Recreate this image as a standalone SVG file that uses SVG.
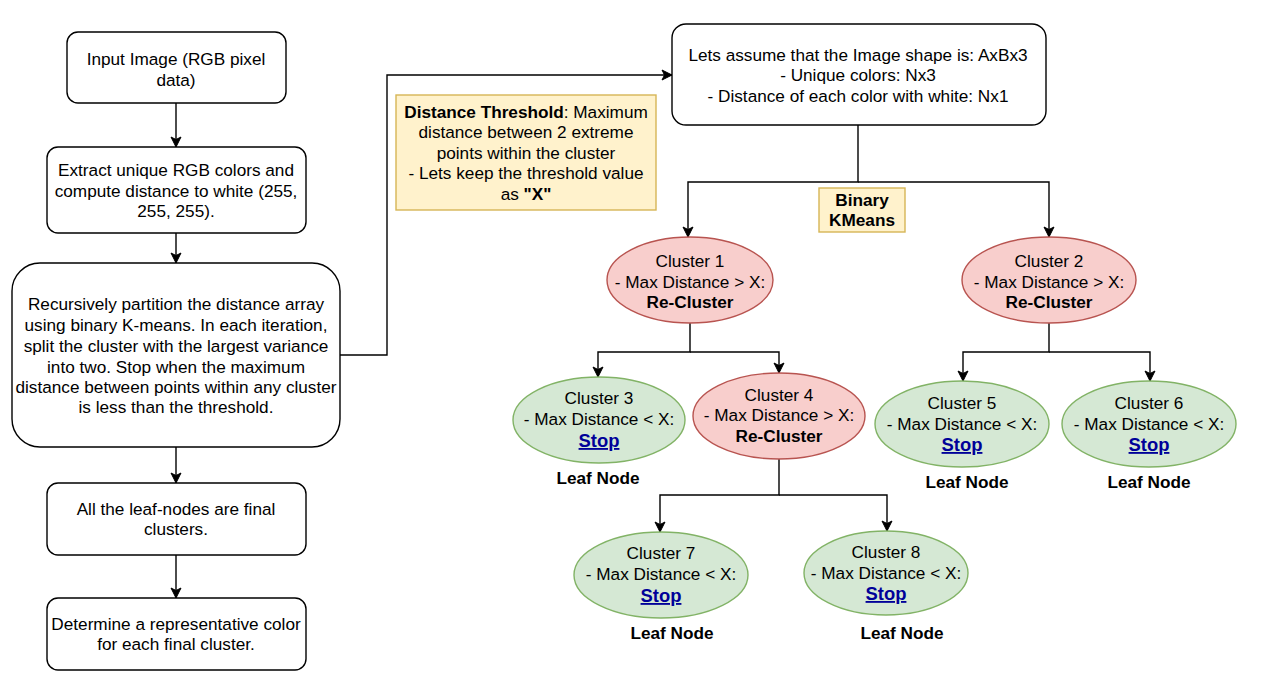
<svg xmlns="http://www.w3.org/2000/svg" width="1261" height="695" viewBox="0 0 1261 695">
<defs>
<marker id="arr" markerUnits="userSpaceOnUse" markerWidth="14" markerHeight="12" viewBox="-1 -6 13 12" refX="10" refY="0" orient="auto">
<path d="M0,-5 L10,0 L0,5 L2.5,0 Z" fill="#000" stroke="#000" stroke-width="1"/>
</marker>
</defs>
<style>
text{font-family:"Liberation Sans",Arial,sans-serif;font-size:17.2px;fill:#000;text-anchor:middle}
.b{font-weight:bold}
.box{fill:#fff;stroke:#000;stroke-width:1.4}
.yel{fill:#fff2cc;stroke:#d6b656;stroke-width:1.4}
.red{fill:#f8cecc;stroke:#b85450;stroke-width:1.4}
.grn{fill:#d5e8d4;stroke:#82b366;stroke-width:1.4}
.stop{font-weight:bold;font-size:18.4px;fill:#000099;text-decoration:underline}
.con path{fill:none;stroke:#000;stroke-width:1.4;marker-end:url(#arr)}
</style>
<rect width="1261" height="695" fill="#fff"/>
<g class="con">
<path d="M176,103 V147"/>
<path d="M176,233 V263"/>
<path d="M176,447 V483"/>
<path d="M176,555 V598"/>
<path d="M340,355 H387 V75 H672"/>
<path d="M858,125 V182 H688 V237"/>
<path d="M858,182 H1049 V237"/>
<path d="M690,323 V352 H598 V377"/>
<path d="M690,352 H779 V373"/>
<path d="M1049,323 V352 H963 V381"/>
<path d="M1049,352 H1150 V381"/>
<path d="M779,459 V495 H660 V532"/>
<path d="M779,495 H887 V531"/>
</g>
<g id="input">
<rect class="box" x="67" y="32" width="219" height="71" rx="11"/>
<text x="176" y="65">Input Image (RGB pixel</text>
<text x="176" y="86">data)</text>
</g>
<g id="extract">
<rect class="box" x="47" y="147" width="259" height="86" rx="11"/>
<text x="176" y="176">Extract unique RGB colors and</text>
<text x="176" y="197">compute distance to white (255,</text>
<text x="176" y="217">255, 255).</text>
</g>
<g id="recursive">
<rect class="box" x="12" y="263" width="328" height="184" rx="28"/>
<text x="176" y="310">Recursively partition the distance array</text>
<text x="176" y="331">using binary K-means. In each iteration,</text>
<text x="176" y="352">split the cluster with the largest variance</text>
<text x="176" y="373">into two. Stop when the maximum</text>
<text x="176" y="393">distance between points within any cluster</text>
<text x="176" y="413">is less than the threshold.</text>
</g>
<g id="leafs">
<rect class="box" x="47" y="483" width="259" height="72" rx="11"/>
<text x="176" y="515">All the leaf-nodes are final</text>
<text x="176" y="535">clusters.</text>
</g>
<g id="represent">
<rect class="box" x="47" y="598" width="259" height="72" rx="11"/>
<text x="176" y="630">Determine a representative color</text>
<text x="176" y="650">for each final cluster.</text>
</g>
<g id="assume">
<rect class="box" x="672" y="24" width="374" height="101" rx="14"/>
<text x="858" y="61">Lets assume that the Image shape is: AxBx3</text>
<text x="858" y="81">- Unique colors: Nx3</text>
<text x="858" y="102">- Distance of each color with white: Nx1</text>
</g>
<g id="threshold">
<rect class="yel" x="396" y="95" width="260" height="115"/>
<text x="526" y="118"><tspan class="b">Distance Threshold</tspan>: Maximum</text>
<text x="526" y="138">distance between 2 extreme</text>
<text x="526" y="159">points within the cluster</text>
<text x="526" y="179">- Lets keep the threshold value</text>
<text x="526" y="200">as <tspan class="b">"X"</tspan></text>
</g>
<g id="kmeans">
<rect class="yel" x="819" y="188" width="86" height="44"/>
<text class="b" x="862" y="206">Binary</text>
<text class="b" x="862" y="226">KMeans</text>
</g>
<g id="c1">
<ellipse class="red" cx="690" cy="280" rx="83" ry="43"/>
<text x="690" y="267">Cluster 1</text>
<text x="690" y="288">- Max Distance &gt; X:</text>
<text class="b" x="690" y="308">Re-Cluster</text>
</g>
<g id="c2">
<ellipse class="red" cx="1049" cy="280" rx="87" ry="43"/>
<text x="1049" y="267">Cluster 2</text>
<text x="1049" y="288">- Max Distance &gt; X:</text>
<text class="b" x="1049" y="308">Re-Cluster</text>
</g>
<g id="c3">
<ellipse class="grn" cx="599" cy="420" rx="86" ry="43"/>
<text x="599" y="404">Cluster 3</text>
<text x="599" y="425">- Max Distance &lt; X:</text>
<text class="stop" x="599" y="447">Stop</text>
<text class="b" x="598" y="484">Leaf Node</text>
</g>
<g id="c4">
<ellipse class="red" cx="779" cy="416" rx="86" ry="43"/>
<text x="779" y="401">Cluster 4</text>
<text x="779" y="421">- Max Distance &gt; X:</text>
<text class="b" x="779" y="442">Re-Cluster</text>
</g>
<g id="c5">
<ellipse class="grn" cx="962" cy="424" rx="87" ry="43"/>
<text x="962" y="409">Cluster 5</text>
<text x="962" y="430">- Max Distance &lt; X:</text>
<text class="stop" x="962" y="451">Stop</text>
<text class="b" x="967" y="488">Leaf Node</text>
</g>
<g id="c6">
<ellipse class="grn" cx="1149" cy="424" rx="87" ry="43"/>
<text x="1149" y="409">Cluster 6</text>
<text x="1149" y="430">- Max Distance &lt; X:</text>
<text class="stop" x="1149" y="451">Stop</text>
<text class="b" x="1149" y="488">Leaf Node</text>
</g>
<g id="c7">
<ellipse class="grn" cx="661" cy="575" rx="87" ry="43"/>
<text x="661" y="559">Cluster 7</text>
<text x="661" y="580">- Max Distance &lt; X:</text>
<text class="stop" x="661" y="602">Stop</text>
<text class="b" x="672" y="639">Leaf Node</text>
</g>
<g id="c8">
<ellipse class="grn" cx="886" cy="573" rx="82" ry="42"/>
<text x="886" y="558">Cluster 8</text>
<text x="886" y="579">- Max Distance &lt; X:</text>
<text class="stop" x="886" y="600">Stop</text>
<text class="b" x="902" y="639">Leaf Node</text>
</g>
</svg>
